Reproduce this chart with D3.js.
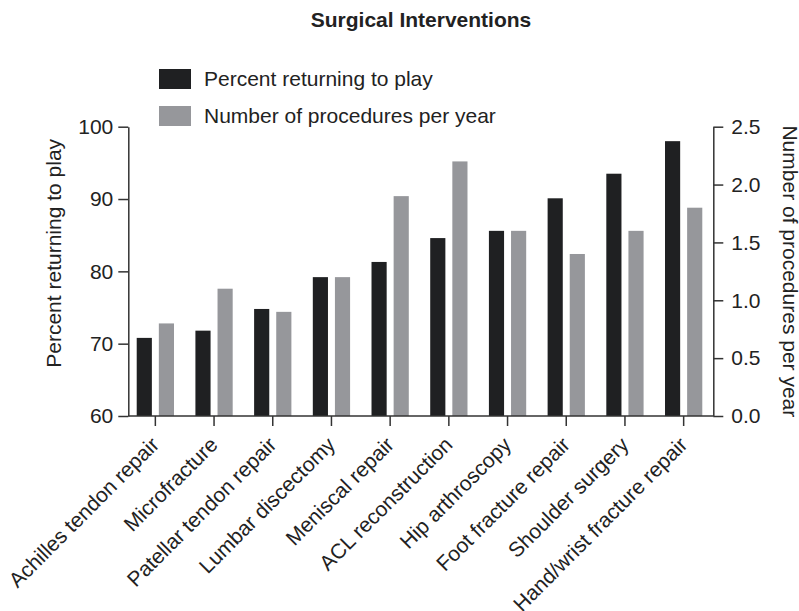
<!DOCTYPE html>
<html>
<head>
<meta charset="utf-8">
<script src="https://cdn.jsdelivr.net/npm/d3@7"></script>
<style>
  html, body { margin: 0; padding: 0; background: #fff; }
  svg { display: block; font-family: "Liberation Sans", Arial, Helvetica, sans-serif; }
</style>
</head>
<body>
<svg id="chart" width="799" height="611"></svg>
<script>
// Surgical procedures, percent returning to play (left axis) and procedures per year (right axis)
const categories = [
  "Achilles tendon repair", "Microfracture", "Patellar tendon repair", "Lumbar discectomy",
  "Meniscal repair", "ACL reconstruction", "Hip arthroscopy", "Foot fracture repair",
  "Shoulder surgery", "Hand/wrist fracture repair"
];
const percentReturning = [70.8, 71.8, 74.8, 79.2, 81.3, 84.6, 85.6, 90.1, 93.5, 98.0];
const proceduresPerYear = [0.8, 1.1, 0.9, 1.2, 1.9, 2.2, 1.6, 1.4, 1.6, 1.8];
const leftTicks = [60, 70, 80, 90, 100];
const rightTicks = [0, 0.5, 1.0, 1.5, 2.0, 2.5];
const seriesNames = ["Percent returning to play", "Number of procedures per year"];

const colors = ["#1f2022", "#96979b"];
const textColor = "#222";

const svg = d3.select("#chart");
const plot = { left: 128.3, right: 713.3, top: 126.7, bottom: 416 };

const x0 = d3.scaleBand().domain(categories).range([126, 713])
  .paddingInner(0.365).paddingOuter(0.1825);
const x1 = d3.scaleBand().domain([0, 1]).range([0, x0.bandwidth()]).paddingInner(0.315);
const yL = d3.scaleLinear().domain([60, 100]).range([plot.bottom, plot.top]);
const yR = d3.scaleLinear().domain([0, 2.5]).range([plot.bottom, plot.top]);

// Bars
const groups = svg.append("g").selectAll("g").data(categories).join("g")
  .attr("transform", d => `translate(${x0(d)},0)`);
groups.append("rect")
  .attr("x", x1(0)).attr("width", x1.bandwidth())
  .attr("y", (d, i) => yL(percentReturning[i]))
  .attr("height", (d, i) => yL(60) - yL(percentReturning[i]))
  .attr("fill", colors[0]);
groups.append("rect")
  .attr("x", x1(1)).attr("width", x1.bandwidth())
  .attr("y", (d, i) => yR(proceduresPerYear[i]))
  .attr("height", (d, i) => yR(0) - yR(proceduresPerYear[i]))
  .attr("fill", colors[1]);

function styleAxis(g) {
  g.selectAll("path, line").attr("stroke", "#333").attr("stroke-width", 1.5);
  g.selectAll("text").attr("fill", textColor).style("font-size", "21px");
}

// Left axis
svg.append("g").attr("transform", `translate(${plot.left},0)`)
  .call(d3.axisLeft(yL).tickValues(leftTicks).tickSize(10).tickSizeOuter(0).tickPadding(5))
  .call(styleAxis);

// Right axis
svg.append("g").attr("transform", `translate(${plot.right},0)`)
  .call(d3.axisRight(yR).tickValues(rightTicks).tickSize(10).tickSizeOuter(0).tickPadding(8)
    .tickFormat(d3.format(".1f")))
  .call(styleAxis);

// Bottom axis with slanted category labels
const xAxis = svg.append("g").attr("transform", `translate(0,${plot.bottom})`)
  .call(d3.axisBottom(x0).tickSize(10).tickSizeOuter(0))
  .call(styleAxis);
xAxis.select(".domain").attr("d", `M${plot.left},0H${plot.right}`);
xAxis.selectAll("text")
  .attr("x", 0).attr("y", 0).attr("dy", null)
  .attr("text-anchor", "end")
  .attr("transform", "translate(5,30) rotate(-45)");

// Axis titles
svg.append("text")
  .attr("transform", `translate(61,${(plot.top + plot.bottom) / 2 - 18}) rotate(-90)`)
  .attr("text-anchor", "middle").attr("fill", textColor)
  .style("font-size", "21px").text("Percent returning to play");
svg.append("text")
  .attr("transform", `translate(783,${(plot.top + plot.bottom) / 2}) rotate(90)`)
  .attr("text-anchor", "middle").attr("fill", textColor)
  .style("font-size", "21px").text("Number of procedures per year");

// Title
svg.append("text").attr("x", 421).attr("y", 27)
  .attr("text-anchor", "middle").attr("fill", textColor)
  .style("font-size", "21px").style("font-weight", "bold")
  .text("Surgical Interventions");

// Legend
const legend = svg.append("g").selectAll("g").data(seriesNames).join("g")
  .attr("transform", (d, i) => `translate(159,${69 + i * 37})`);
legend.append("rect").attr("width", 32).attr("height", 20).attr("fill", (d, i) => colors[i]);
legend.append("text").attr("x", 45).attr("y", 17).attr("fill", textColor)
  .style("font-size", "21px").text(d => d);
</script>
</body>
</html>
